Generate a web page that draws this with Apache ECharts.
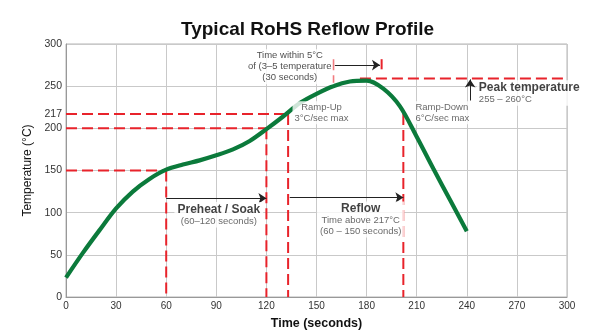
<!DOCTYPE html>
<html><head><meta charset="utf-8">
<script src="https://cdn.jsdelivr.net/npm/echarts@6/dist/echarts.min.js"></script>
<style>html,body{margin:0;padding:0;background:#fff}#c{width:594px;height:336px}</style>
</head><body><div id="c"></div>
<script>
// ---- data ----
const profileTime = [0, 10, 20, 30, 40, 50, 60, 70, 80, 90, 100, 110, 120, 130, 140, 150, 160, 170, 180, 190, 200, 210, 220, 230, 240];
const profileTemp = [23, 52, 79, 105, 125, 140, 151, 157, 162, 168, 175, 185, 199, 214, 230, 241, 250, 255.5, 256.5, 247, 226, 190, 152, 115, 78];
const xTicks = [0, 30, 60, 90, 120, 150, 180, 210, 240, 270, 300];
const yTickLabels = [0, 50, 100, 150, 200, 217, 250, 300];
// dashed guide lines: [[t1, temp1], [t2, temp2]]
const guideLines = [
  [[0, 150], [60, 150]],
  [[0, 200], [120, 200]],
  [[0, 217], [133, 217]],
  [[60, 150], [60, 0]],
  [[120, 200], [120, 0]],
  [[133, 217], [133, 0]],
  [[202, 217], [202, 0]],
  [[176, 259], [300, 259]],
  [[160, 282], [160, 254]],
  [[189, 282], [189, 270]]
];
// arrows
const arrows = [
  [[60, 117], [120, 117]],
  [[134, 118], [202, 118]],
  [[161, 275], [188, 275]],
  [[242, 233], [242, 258]]
];
// annotation anchors
const notes = [
  {name: 'window', pos: [134, 273], lines: ['Time within 5°C', 'of (3–5 temperature', '(30 seconds)']},
  {name: 'rampUp', pos: [153, 218.5], lines: ['Ramp-Up', '3°C/sec max']},
  {name: 'rampDown', pos: [208, 218.5], lines: ['Ramp-Down', '6°C/sec max']},
  {name: 'peak', pos: [246, 242], lines: ['Peak temperature', '255 – 260°C']},
  {name: 'preheat', pos: [91.5, 97.5], lines: ['Preheat / Soak', '(60–120 seconds)']},
  {name: 'reflow', pos: [176.5, 92], lines: ['Reflow', 'Time above 217°C', '(60 – 150 seconds)']}
];

const FONT = "'Liberation Sans', Arial, sans-serif";
const RED = '#e8232b';
const GREEN = '#0b7a3b';

const chart = echarts.init(document.getElementById('c'), null, {renderer: 'canvas'});

const series = [];
series.push({
  type: 'line', name: 'profile', smooth: 0.3, symbol: 'none',
  data: profileTime.map((t, i) => [t, profileTemp[i]]),
  lineStyle: {color: GREEN, width: 4.2}, z: 5
});
guideLines.forEach(g => series.push({
  type: 'line', symbol: 'none', data: g, silent: true,
  lineStyle: {color: RED, width: 2, type: [11, 5]}, z: 3
}));
series.push({
  type: 'lines', coordinateSystem: 'cartesian2d', symbol: ['none', 'arrow'], symbolSize: [0, 8],
  lineStyle: {color: '#222', width: 1, opacity: 1}, z: 4,
  data: arrows.map(a => ({coords: a}))
});

function noteLabel(n) {
  const base = {show: true, position: 'inside', fontFamily: FONT, color: '#444', fontSize: 9.5, lineHeight: 10.5,
    backgroundColor: '#fff', padding: [1, 2]};
  if (n.name === 'preheat' || n.name === 'reflow') {
    return Object.assign(base, {
      formatter: '{b|' + n.lines[0] + '}\n' + n.lines.slice(1).join('\n'),
      rich: {b: {fontSize: 12, fontWeight: 'bold', color: '#111', fontFamily: FONT, lineHeight: 13}},
      align: 'center', padding: [1, 3]
    });
  }
  if (n.name === 'peak') {
    return Object.assign(base, {
      formatter: '{b|' + n.lines[0] + '}\n' + n.lines[1],
      rich: {b: {fontSize: 12, fontWeight: 'bold', color: '#111', fontFamily: FONT, lineHeight: 13}},
      align: 'left', position: 'right', distance: 0
    });
  }
  if (n.name === 'rampDown') {
    return Object.assign(base, {formatter: n.lines.join('\n'), align: 'left', position: 'right', distance: 0});
  }
  if (n.name === 'window') {
    return Object.assign(base, {formatter: n.lines.join('\n'), align: 'center', color: '#222', lineHeight: 11});
  }
  return Object.assign(base, {formatter: n.lines.join('\n'), align: 'center'});
}
series.push({
  type: 'scatter', symbolSize: 0.1, z: 6, silent: true,
  data: notes.map(n => ({value: n.pos, label: noteLabel(n)})),
  itemStyle: {color: 'transparent'}
});

chart.setOption({
  animation: false,
  backgroundColor: '#fff',
  title: {
    text: 'Typical RoHS Reflow Profile', left: 176, top: 15,
    textStyle: {fontFamily: FONT, fontSize: 19, fontWeight: 'bold', color: '#111'}
  },
  grid: {left: 66, right: 27, top: 44, bottom: 39, show: true, borderColor: '#b5b5b5', borderWidth: 1, containLabel: false},
  xAxis: {
    type: 'value', min: 0, max: 300, interval: 30,
    name: 'Time (seconds)', nameLocation: 'middle', nameGap: 20,
    nameTextStyle: {fontFamily: FONT, fontSize: 12.5, fontWeight: 'bold', color: '#111'},
    axisLine: {lineStyle: {color: '#999'}},
    axisTick: {show: false},
    axisLabel: {fontFamily: FONT, fontSize: 10, color: '#333', margin: 4, customValues: xTicks},
    splitLine: {lineStyle: {color: '#c9c9c9', width: 1}}
  },
  yAxis: {
    type: 'value', min: 0, max: 300, interval: 50,
    name: 'Temperature (°C)', nameLocation: 'middle', nameGap: 28, nameRotate: 90,
    nameTextStyle: {fontFamily: FONT, fontSize: 12, color: '#111'},
    axisLine: {show: true, lineStyle: {color: '#999'}},
    axisTick: {show: false},
    axisLabel: {fontFamily: FONT, fontSize: 10.5, color: '#333', margin: 4, customValues: yTickLabels},
    splitLine: {lineStyle: {color: '#c9c9c9', width: 1}}
  },
  series: series
});
</script></body></html>
